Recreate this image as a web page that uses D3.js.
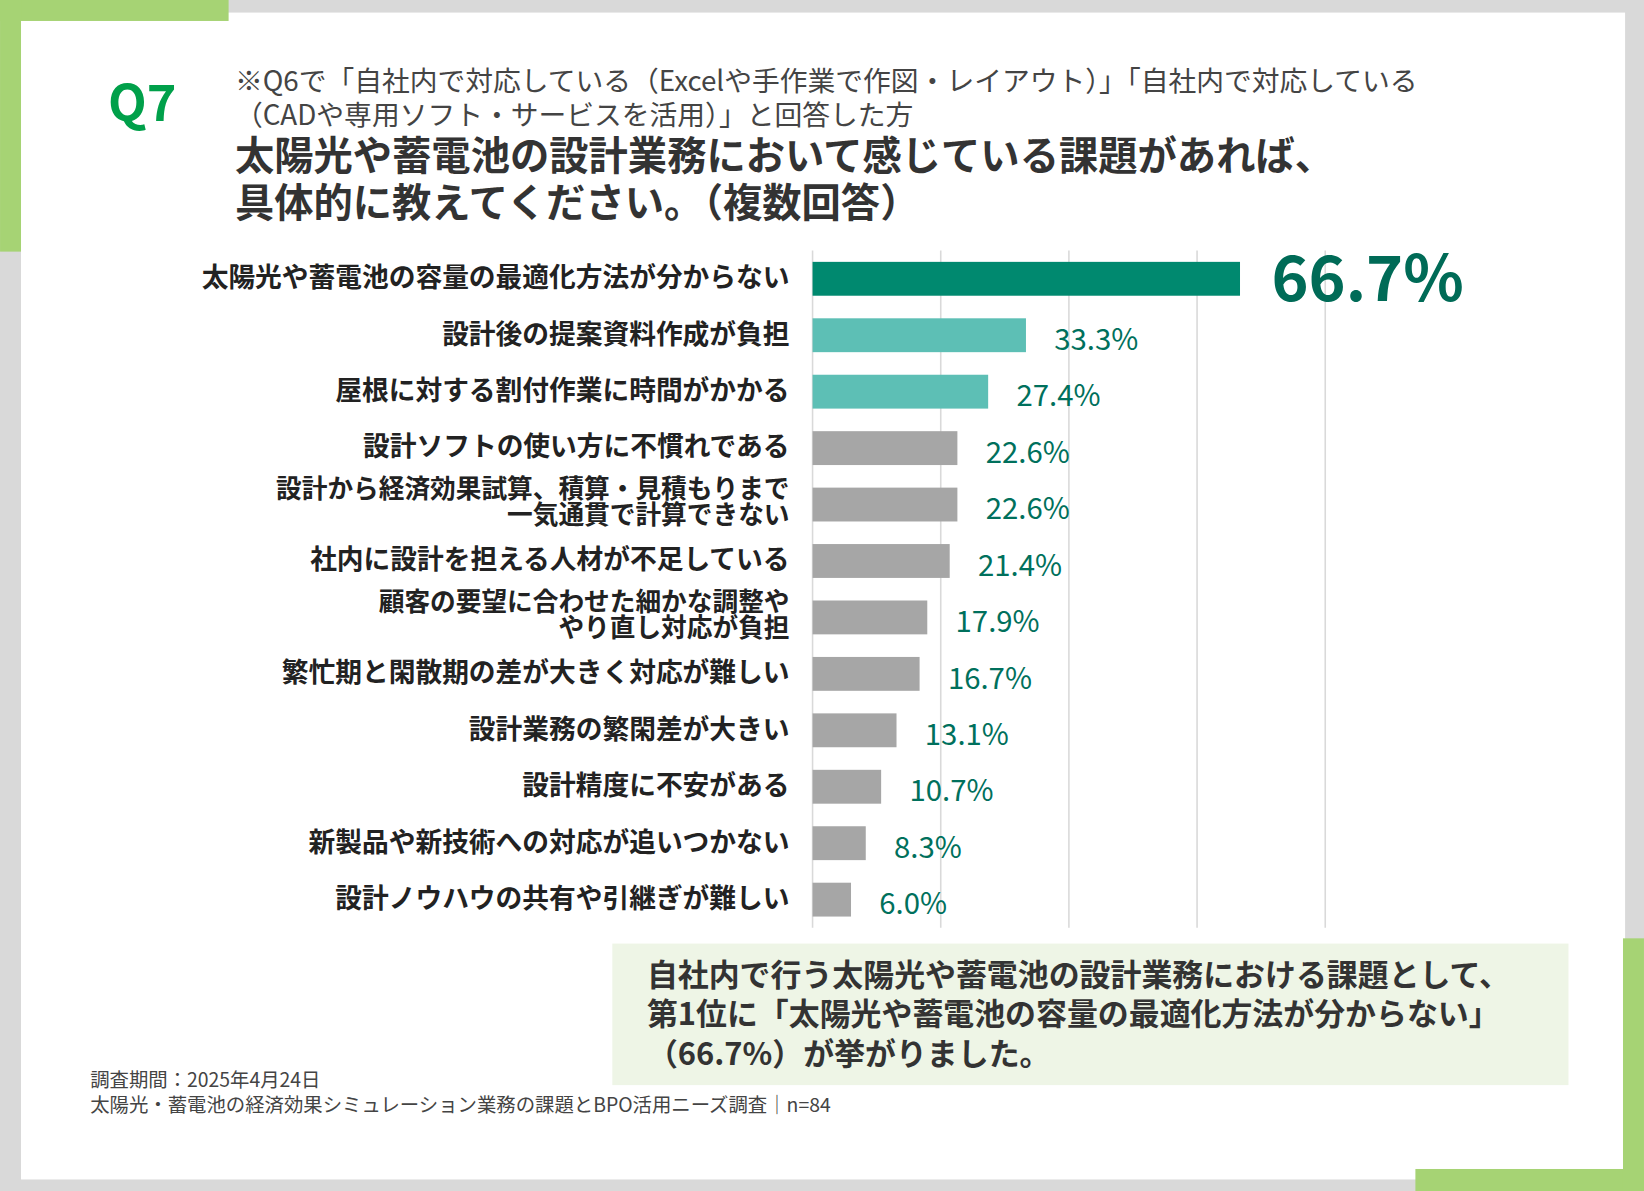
<!DOCTYPE html>
<html><head><meta charset="utf-8">
<script src="https://cdn.jsdelivr.net/npm/d3@7"></script>
<style>body{margin:0;background:#d9d9d9}text{font-family:"Noto Sans CJK JP","Noto Sans",sans-serif}</style>
</head><body>
<script>
var categories = [
  ['太陽光や蓄電池の容量の最適化方法が分からない'],
  ['設計後の提案資料作成が負担'],
  ['屋根に対する割付作業に時間がかかる'],
  ['設計ソフトの使い方に不慣れである'],
  ['設計から経済効果試算、積算・見積もりまで', '一気通貫で計算できない'],
  ['社内に設計を担える人材が不足している'],
  ['顧客の要望に合わせた細かな調整や', 'やり直し対応が負担'],
  ['繁忙期と閑散期の差が大きく対応が難しい'],
  ['設計業務の繁閑差が大きい'],
  ['設計精度に不安がある'],
  ['新製品や新技術への対応が追いつかない'],
  ['設計ノウハウの共有や引継ぎが難しい']
];
var values = [66.7, 33.3, 27.4, 22.6, 22.6, 21.4, 17.9, 16.7, 13.1, 10.7, 8.3, 6.0];
var gridTicks = [0, 20, 40, 60, 80];

var svg = d3.select('body').append('svg')
  .attr('width', 1644).attr('height', 1191)
  .attr('viewBox', '0 0 1568 1136');

svg.append('rect').attr('width', 1568).attr('height', 1136).attr('fill', '#d9d9d9');
svg.append('rect').attr('x', 20).attr('y', 12).attr('width', 1530).attr('height', 1113).attr('fill', '#fff');
var green = '#a6d374';
svg.append('rect').attr('x', 0).attr('y', 0).attr('width', 218).attr('height', 20).attr('fill', green);
svg.append('rect').attr('x', 0).attr('y', 0).attr('width', 20).attr('height', 240).attr('fill', green);
svg.append('rect').attr('x', 1350).attr('y', 1115).attr('width', 218).attr('height', 21).attr('fill', green);
svg.append('rect').attr('x', 1548).attr('y', 895).attr('width', 20).attr('height', 241).attr('fill', green);

svg.append('text').attr('x', 103).attr('y', 115).attr('font-size', 48).attr('font-weight', 'bold')
  .attr('fill', '#00a04a').attr('font-family', 'Roboto, sans-serif').text('Q7');
svg.append('text').attr('x', 224).attr('y', 87).attr('font-size', 26.5).attr('fill', '#444')
  .text('※Q6で「自社内で対応している（Excelや手作業で作図・レイアウト）」「自社内で対応している');
svg.append('text').attr('x', 224).attr('y', 119).attr('font-size', 26.5).attr('fill', '#444')
  .text('（CADや専用ソフト・サービスを活用）」と回答した方');
svg.append('text').attr('x', 224).attr('y', 162).attr('font-size', 37.5).attr('font-weight', 'bold').attr('fill', '#333')
  .text('太陽光や蓄電池の設計業務において感じている課題があれば、');
svg.append('text').attr('x', 224).attr('y', 207).attr('font-size', 37.5).attr('font-weight', 'bold').attr('fill', '#333')
  .text('具体的に教えてください。（複数回答）');

var x = d3.scaleLinear().domain([0, 80]).range([775, 1264]);
var y = d3.scaleBand().domain(d3.range(values.length)).range([239, 885]).paddingInner(0.4).paddingOuter(0.2);

svg.selectAll('.grid').data(gridTicks).enter().append('line')
  .attr('x1', function(d){ return x(d); }).attr('x2', function(d){ return x(d); })
  .attr('y1', 239).attr('y2', 885).attr('stroke', '#d9d9d9').attr('stroke-width', 1.5);

function barColor(i){ return i === 0 ? '#00896f' : (i < 3 ? '#5dbfb5' : '#a6a6a6'); }

svg.selectAll('.bar').data(values).enter().append('rect')
  .attr('x', x(0)).attr('y', function(d, i){ return y(i); })
  .attr('width', function(d){ return x(d) - x(0); }).attr('height', y.bandwidth())
  .attr('fill', function(d, i){ return barColor(i); });

svg.selectAll('.val').data(values).enter().append('text')
  .attr('x', function(d, i){ return x(d) + (i === 0 ? 30 : 27); })
  .attr('y', function(d, i){ return y(i) + y.bandwidth() / 2 + (i === 0 ? 0 : 14); })
  .attr('dy', function(d, i){ return i === 0 ? '0.35em' : 0; })
  .attr('font-size', function(d, i){ return i === 0 ? 60 : 28; })
  .attr('font-weight', function(d, i){ return i === 0 ? 'bold' : 'normal'; })
  .attr('font-family', 'Calibri, Carlito, "Open Sans", sans-serif')
  .attr('fill', function(d, i){ return i === 0 ? '#006b57' : '#00705c'; })
  .text(function(d){ return d.toFixed(1) + '%'; });

categories.forEach(function(lines, i){
  var cy = y(i) + y.bandwidth() / 2;
  lines.forEach(function(t, j){
    svg.append('text').attr('x', 753).attr('text-anchor', 'end')
      .attr('y', cy + (lines.length === 1 ? 8 : (j === 0 ? -6 : 19)))
      .attr('font-size', lines.length === 1 ? 25.5 : 24.5).attr('font-weight', 'bold').attr('fill', '#222').text(t);
  });
});

svg.append('rect').attr('x', 584).attr('y', 900).attr('width', 912).attr('height', 135).attr('fill', '#eef5e6');
var summary = ['自社内で行う太陽光や蓄電池の設計業務における課題として、',
  '第1位に「太陽光や蓄電池の容量の最適化方法が分からない」',
  '（66.7%）が挙がりました。'];
summary.forEach(function(t, i){
  svg.append('text').attr('x', 617).attr('y', 940 + i * 38).attr('font-size', 29.5).attr('font-weight', 'bold')
    .attr('fill', '#333').text(t);
});

svg.append('text').attr('x', 86).attr('y', 1037).attr('font-size', 18.5).attr('fill', '#444').text('調査期間：2025年4月24日');
svg.append('text').attr('x', 86).attr('y', 1061).attr('font-size', 18.5).attr('fill', '#444')
  .text('太陽光・蓄電池の経済効果シミュレーション業務の課題とBPO活用ニーズ調査｜n=84');
</script>
</body></html>
